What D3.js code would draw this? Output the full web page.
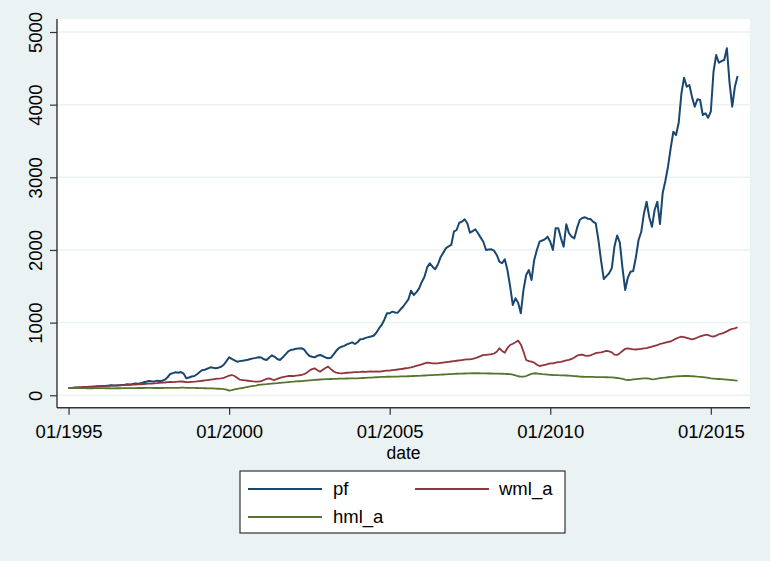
<!DOCTYPE html>
<html>
<head>
<meta charset="utf-8">
<script src="https://cdn.jsdelivr.net/npm/d3@7"></script>
<style>
  html, body { margin: 0; padding: 0; background: #eaf2f3; }
  svg { display: block; }
  text { font-family: "Liberation Sans", Arial, sans-serif; fill: #000; }
</style>
</head>
<body>
<svg id="chart" width="770" height="561"></svg>
<script>
// ---- data (monthly, Jan 1995 .. Nov 2015) ----
const startYear = 1995;
const seriesNames = ["pf", "wml_a", "hml_a"];
const seriesColors = ["#1a476f", "#90353b", "#55752f"];

const pf = [
  100,101,103,106,108,110,113,114,117,116,120,123,
  126,129,131,134,138,136,133,137,142,146,151,149,
  155,163,160,165,178,186,197,192,188,201,196,200,
  215,248,293,305,316,310,320,298,234,245,258,265,
  290,320,348,352,368,385,378,372,380,392,420,470,
  523,500,480,462,470,475,481,490,500,508,515,523,
  520,495,486,520,550,530,500,486,520,560,600,623,
  630,640,645,647,630,580,540,530,523,545,555,540,
  520,509,515,560,610,650,669,680,700,715,729,706,
  730,771,775,790,800,810,820,860,920,968,1040,1129,
  1129,1151,1140,1137,1180,1219,1270,1321,1440,1380,1420,1472,
  1560,1632,1760,1817,1770,1734,1800,1899,1960,2023,2050,2069,
  2252,2275,2375,2390,2422,2367,2238,2260,2285,2230,2170,2114,
  2000,2005,2009,1990,1931,1840,1817,1871,1724,1500,1243,1335,
  1274,1129,1450,1656,1724,1587,1862,2000,2114,2130,2147,2183,
  2114,2000,2298,2298,2160,2045,2353,2230,2183,2160,2300,2412,
  2440,2450,2430,2426,2390,2367,2137,1850,1600,1640,1680,1750,
  2050,2200,2100,1750,1450,1620,1700,1710,1900,2137,2250,2500,
  2664,2450,2320,2550,2664,2357,2780,2950,3146,3400,3628,3582,
  3750,4150,4371,4247,4271,4100,3972,4074,4064,3858,3881,3821,
  3903,4453,4683,4577,4600,4615,4776,4300,3972,4247,4394
];

const wml_a = [
  100,102,104,106,108,110,112,114,116,118,120,122,
  124,126,128,130,132,134,136,138,140,142,142,144,
  146,148,150,152,155,158,160,162,165,168,172,174,
  176,180,184,182,185,188,190,186,180,182,185,187,
  190,195,200,205,210,215,220,225,230,233,240,255,
  270,279,265,240,215,210,205,200,195,190,188,187,
  195,210,225,233,220,210,225,240,250,258,265,265,
  265,270,275,279,290,310,340,360,371,345,325,350,
  375,394,360,330,311,305,300,305,310,312,315,318,
  320,322,325,322,325,328,325,330,325,330,335,338,
  339,345,350,355,360,365,372,378,385,394,405,415,
  425,440,449,445,440,438,440,445,450,455,460,465,
  470,475,480,485,490,495,495,500,510,525,540,555,
  555,560,565,575,600,647,610,586,650,692,710,730,
  752,700,600,486,470,462,450,420,403,410,420,430,
  440,440,450,455,460,470,480,486,500,520,545,555,
  560,545,541,550,565,580,586,590,600,610,605,590,
  560,555,580,610,640,647,640,633,630,635,640,645,
  650,660,670,680,690,706,715,725,735,740,760,780,
  795,807,800,790,780,771,780,795,810,820,830,830,
  815,807,820,840,850,862,880,900,915,922,936
];

const hml_a = [
  100,100,99,99,98,98,98,97,97,97,98,98,
  98,98,97,97,96,96,97,97,98,98,98,99,
  99,99,100,100,100,101,101,101,100,100,100,100,
  101,101,102,102,103,103,104,104,103,103,102,101,
  100,99,98,97,96,95,94,92,90,88,85,78,
  63,70,80,88,95,100,108,115,122,128,134,142,
  146,150,153,157,160,163,166,170,174,177,181,185,
  187,190,193,196,199,202,205,208,211,214,217,220,
  221,222,224,225,226,228,229,230,231,232,233,234,
  234,236,238,240,242,244,246,248,250,252,254,255,
  255,256,257,258,259,260,261,262,263,265,266,268,
  270,272,274,276,278,280,282,284,286,288,290,292,
  294,296,298,299,300,301,302,303,303,303,302,302,
  301,300,300,299,298,297,296,294,293,290,285,275,
  262,256,256,265,280,295,303,300,295,290,287,284,
  281,279,278,276,275,273,272,270,268,265,262,256,
  255,254,253,252,252,251,250,250,249,248,247,245,
  242,238,232,225,215,210,212,218,222,226,230,234,
  234,228,220,222,228,235,240,244,248,252,256,260,
  262,264,265,266,265,262,259,256,254,250,245,240,
  234,230,226,224,222,220,216,212,208,204,201
];

const yTicks = [0, 1000, 2000, 3000, 4000, 5000];
const xTickYears = [1995, 2000, 2005, 2010, 2015];
const xTickLabels = ["01/1995", "01/2000", "01/2005", "01/2010", "01/2015"];
const xTitle = "date";

// ---- layout ----
const svg = d3.select("#chart");
const W = 770, H = 561;
const plot = { left: 57, right: 750, top: 19, bottom: 407.7 };

svg.append("rect").attr("x", 0).attr("y", 0).attr("width", W).attr("height", H).attr("fill", "#eaf2f3");
svg.append("rect")
  .attr("x", plot.left).attr("y", plot.top)
  .attr("width", plot.right - plot.left).attr("height", plot.bottom - plot.top)
  .attr("fill", "#ffffff");

const x = d3.scaleLinear().domain([1994.64, 2016.22]).range([plot.left, plot.right]);
const y = d3.scaleLinear().domain([-171, 5179]).range([plot.bottom, plot.top]);

// grid
svg.append("g").selectAll("line").data(yTicks).join("line")
  .attr("x1", plot.left).attr("x2", plot.right)
  .attr("y1", d => y(d)).attr("y2", d => y(d))
  .attr("stroke", "#eaf2f3").attr("stroke-width", 1.5);

// series
const seriesData = [pf, wml_a, hml_a];
const line = d3.line()
  .x((d, i) => x(startYear + i / 12))
  .y(d => y(d));

seriesData.forEach((s, k) => {
  svg.append("path")
    .datum(s)
    .attr("fill", "none")
    .attr("stroke", seriesColors[k])
    .attr("stroke-width", k === 0 ? 2 : 1.8)
    .attr("stroke-linejoin", "round")
    .attr("d", line);
});

// axes
const yAxis = d3.axisLeft(y).tickValues(yTicks).tickSize(7).tickPadding(6).tickFormat(d3.format("d"));
const gy = svg.append("g").attr("transform", `translate(${plot.left},0)`).call(yAxis);
gy.select(".domain").attr("d", `M0,${plot.top}V${plot.bottom}`).attr("stroke", "#333").attr("stroke-width", 1.4);
gy.selectAll(".tick line").attr("stroke", "#333").attr("stroke-width", 1.2);
gy.selectAll(".tick text")
  .attr("font-size", "18.5px")
  .attr("font-family", "Liberation Sans, Arial, sans-serif")
  .attr("fill", "#000")
  .attr("text-anchor", "middle")
  .attr("x", null).attr("dy", null)
  .attr("transform", "translate(-15,0) rotate(-90)");

const xAxis = d3.axisBottom(x).tickValues(xTickYears).tickSize(7).tickPadding(6)
  .tickFormat((d, i) => xTickLabels[i]);
const gx = svg.append("g").attr("transform", `translate(0,${plot.bottom})`).call(xAxis);
gx.select(".domain").attr("d", `M${plot.left},0H${plot.right}`).attr("stroke", "#333").attr("stroke-width", 1.4);
gx.selectAll(".tick line").attr("stroke", "#333").attr("stroke-width", 1.2);
gx.selectAll(".tick text")
  .attr("font-size", "18.5px")
  .attr("font-family", "Liberation Sans, Arial, sans-serif")
  .attr("fill", "#000")
  .attr("dy", null)
  .attr("y", 30);

svg.append("text")
  .attr("x", (plot.left + plot.right) / 2)
  .attr("y", 459)
  .attr("text-anchor", "middle")
  .attr("font-size", "17.5px")
  .text(xTitle);

// legend
const lg = svg.append("g");
lg.append("rect").attr("x", 240).attr("y", 471).attr("width", 325).attr("height", 62)
  .attr("fill", "#ffffff").attr("stroke", "#333").attr("stroke-width", 1.2);
const legendPos = [
  { lx: 248, tx: 333, cy: 489 },
  { lx: 415, tx: 499, cy: 489 },
  { lx: 248, tx: 333, cy: 517 }
];
seriesNames.forEach((name, k) => {
  const p = legendPos[k];
  lg.append("line").attr("x1", p.lx).attr("x2", p.lx + 74)
    .attr("y1", p.cy).attr("y2", p.cy)
    .attr("stroke", seriesColors[k]).attr("stroke-width", 2);
  lg.append("text").attr("x", p.tx).attr("y", p.cy).attr("dy", "0.35em")
    .attr("font-size", "18.5px").text(name);
});
</script>
</body>
</html>
